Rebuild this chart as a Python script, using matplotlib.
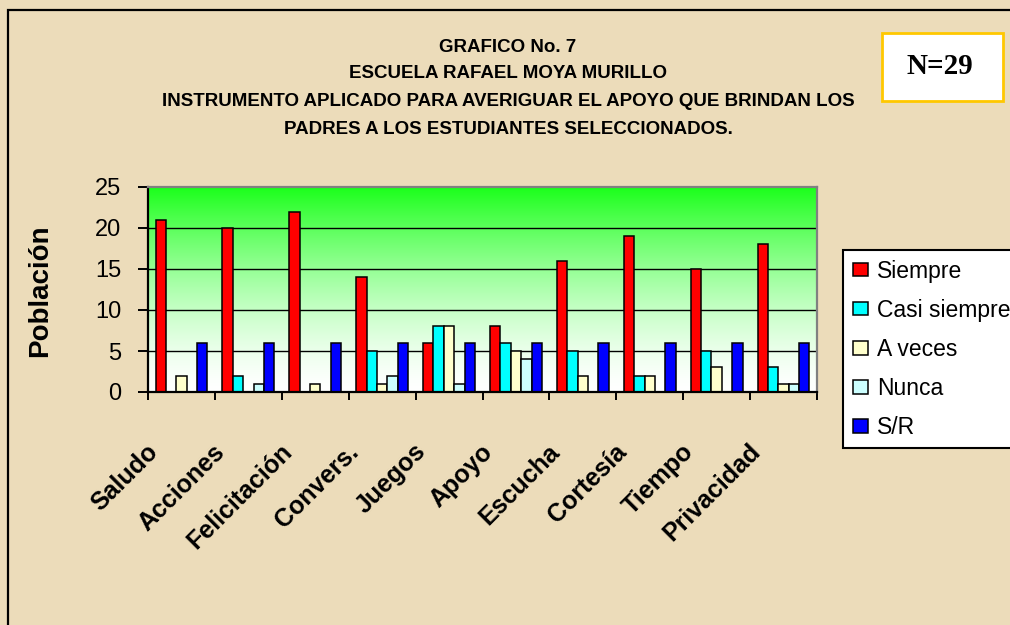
import numpy as np
import matplotlib
matplotlib.use('Agg')
import matplotlib.pyplot as plt
from matplotlib.patches import Rectangle
from matplotlib.transforms import ScaledTranslation

plt.rcParams['font.family'] = ['Liberation Sans', 'DejaVu Sans']

# Data
categories = ['Saludo', 'Acciones', 'Felicitación', 'Convers.', 'Juegos',
              'Apoyo', 'Escucha', 'Cortesía', 'Tiempo', 'Privacidad']
siempre      = [21, 20, 22, 14, 6, 8, 16, 19, 15, 18]
casi_siempre = [0, 2, 0, 5, 8, 6, 5, 2, 5, 3]
a_veces      = [2, 0, 1, 1, 8, 5, 2, 2, 3, 1]
nunca        = [0, 1, 0, 2, 1, 4, 0, 0, 0, 1]
sin_resp     = [6, 6, 6, 6, 6, 6, 6, 6, 6, 6]

series_names = ['Siempre', 'Casi siempre', 'A veces', 'Nunca', 'S/R']
series_vals = [siempre, casi_siempre, a_veces, nunca, sin_resp]
colors = ['#FF0000', '#00FFFF', '#FFFFCC', '#CCFFFF', '#0000FF']

title_lines = ['GRAFICO No. 7',
               'ESCUELA RAFAEL MOYA MURILLO',
               'INSTRUMENTO APLICADO PARA AVERIGUAR EL APOYO QUE BRINDAN LOS',
               'PADRES A LOS ESTUDIANTES SELECCIONADOS.']

W, H = 1010, 625
fig = plt.figure(figsize=(W / 100, H / 100), dpi=100)
fig.patch.set_facecolor('#ECDCBA')

# outer frame (left and top visible)
fig.add_artist(Rectangle((8 / W, -0.1), 1.2, 1 - 10 / H + 0.1,
                         transform=fig.transFigure, fill=False,
                         edgecolor='black', linewidth=1.6))

ax = fig.add_axes([148 / W, 1 - 392 / H, 669 / W, 205 / H])
ax.set_xlim(-0.5, len(categories) - 0.5)
ax.set_ylim(0, 25)

# green gradient background of the plot area
t = np.linspace(0, 1, 256)[:, None]
g = t ** 1.5
grad = np.dstack([1 - g * 0.9, np.ones_like(g), 1 - g * 0.9])
ax.imshow(grad, extent=[-0.5, len(categories) - 0.5, 0, 25], origin='lower',
          aspect='auto', zorder=0)

for y in [5, 10, 15, 20]:
    ax.axhline(y, color='black', linewidth=1.0, zorder=1)

x = np.arange(len(categories))
w = 0.155
for k, (name, vals, c) in enumerate(zip(series_names, series_vals, colors)):
    ax.bar(x + (k - 2) * w, vals, width=w, color=c, edgecolor='black',
           linewidth=1.1, label=name, zorder=2)

ax.spines['left'].set_linewidth(1.6)
ax.spines['bottom'].set_linewidth(1.6)
ax.spines['top'].set_color('#808080')
ax.spines['right'].set_color('#808080')
ax.spines['top'].set_linewidth(1.6)
ax.spines['right'].set_linewidth(1.6)

ax.set_yticks([0, 5, 10, 15, 20, 25])
ax.tick_params(axis='y', direction='out', length=7, width=1.4, pad=12,
               labelsize=17)
ax.set_xticks(x)
ax.set_xticklabels([])
ax.tick_params(axis='x', which='major', length=0)
ax.set_xticks(np.arange(-0.5, len(categories)), minor=True)
ax.tick_params(axis='x', which='minor', direction='out', length=6, width=1.4)

off = ScaledTranslation(-27 / 100, -56 / 100, fig.dpi_scale_trans)
for i, lab in enumerate(categories):
    ax.text(i, 0, lab, transform=ax.get_xaxis_transform() + off,
            rotation=45, rotation_mode='anchor', ha='right', va='center',
            fontsize=18, fontweight='bold')

fig.text(40 / W, 1 - 291 / H, 'Población', rotation=90, ha='center',
         va='center', fontsize=20, fontweight='bold')

for j, line in enumerate(title_lines):
    fig.text(508 / W, 1 - [47, 74, 102, 130][j] / H, line, ha='center',
             va='center', fontsize=13.5, fontweight='bold')

# N box
fig.add_artist(Rectangle((882 / W, 1 - 101 / H), 121 / W, 68 / H,
                         transform=fig.transFigure, facecolor='white',
                         edgecolor='#FFC800', linewidth=2))
fig.text(940 / W, 1 - 67 / H, 'N=29', ha='center', va='center',
         fontsize=21, fontweight='bold', family=['Liberation Serif'])

leg = fig.legend(loc='upper left', bbox_to_anchor=(843 / W, 1 - 250 / H),
                 borderaxespad=0, fontsize=16.5, frameon=True, fancybox=False,
                 handlelength=0.65, handleheight=0.55, handletextpad=0.4,
                 labelspacing=0.7, borderpad=0.42)
leg.get_frame().set_edgecolor('black')
leg.get_frame().set_linewidth(1.5)
leg.get_frame().set_facecolor('white')
leg.get_frame().set_alpha(1)

fig.savefig('out.png', dpi=100, facecolor=fig.get_facecolor())
